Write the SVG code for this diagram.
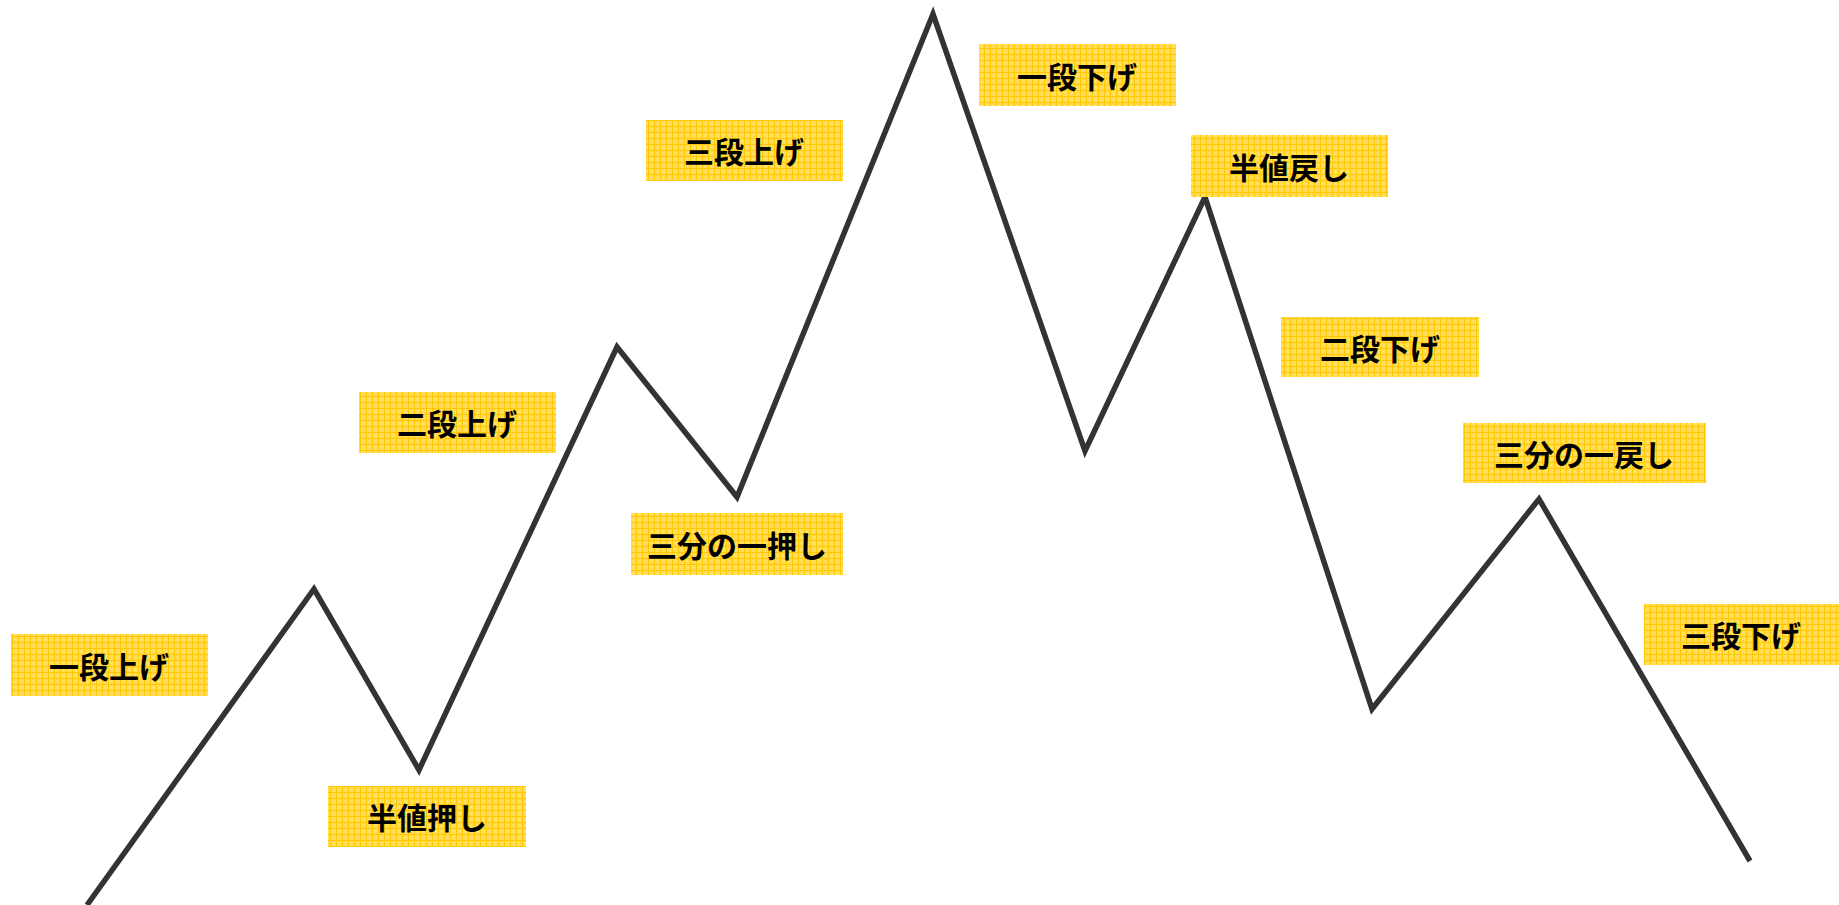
<svg xmlns="http://www.w3.org/2000/svg" width="1839" height="905" viewBox="0 0 1839 905">
  <defs>
    <pattern id="hatch" width="6" height="6" patternUnits="userSpaceOnUse">
      <rect width="6" height="6" fill="#FFDD5A"/>
      <rect x="0" y="0" width="6" height="1" fill="#FFC800"/>
      <rect x="0" y="0" width="1" height="6" fill="#FFC800"/>
      <rect x="3" y="3" width="1" height="1" fill="#FFEE99"/>
    </pattern>
  </defs>
  <style>
    .box { fill: url(#hatch); }
    .lbl { font-family: "Noto Sans CJK JP", sans-serif; font-weight: bold; font-size: 30px; fill: #000; text-anchor: middle; dominant-baseline: central; }
    .chart { fill: none; stroke: #333333; stroke-width: 5.5; stroke-linejoin: miter; }
  </style>
  <rect width="1839" height="905" fill="#ffffff"/>
  <g id="connectors">
    <polyline class="chart" points="87,905 314,589 419,770 617,347 737,497 933,14 1085,451 1205,197 1372,709 1539,499 1750,861"/>
  </g>
  <g id="n1"><rect class="box" x="11" y="634" width="197" height="62"/><text class="lbl" x="109" y="665">一段上げ</text></g>
  <g id="n2"><rect class="box" x="328" y="786" width="198" height="61"/><text class="lbl" x="427" y="816">半値押し</text></g>
  <g id="n3"><rect class="box" x="359" y="392" width="197" height="61"/><text class="lbl" x="457" y="422">二段上げ</text></g>
  <g id="n4"><rect class="box" x="631" y="513" width="212" height="62"/><text class="lbl" x="737" y="544">三分の一押し</text></g>
  <g id="n5"><rect class="box" x="646" y="120" width="197" height="61"/><text class="lbl" x="744" y="150">三段上げ</text></g>
  <g id="n6"><rect class="box" x="979" y="44" width="197" height="62"/><text class="lbl" x="1077" y="75">一段下げ</text></g>
  <g id="n7"><rect class="box" x="1191" y="135" width="197" height="62"/><text class="lbl" x="1289" y="166">半値戻し</text></g>
  <g id="n8"><rect class="box" x="1281" y="317" width="198" height="60"/><text class="lbl" x="1380" y="347">二段下げ</text></g>
  <g id="n9"><rect class="box" x="1463" y="423" width="243" height="60"/><text class="lbl" x="1584" y="453">三分の一戻し</text></g>
  <g id="n10"><rect class="box" x="1644" y="604" width="195" height="61"/><text class="lbl" x="1741" y="634">三段下げ</text></g>
</svg>
